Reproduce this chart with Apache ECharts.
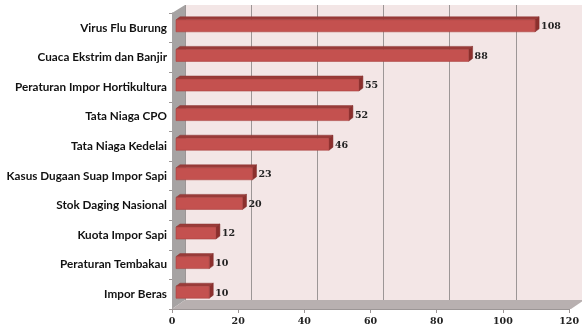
<!DOCTYPE html>
<html>
<head>
  <meta charset="UTF-8" />
  <title>Isu</title>
  <script src="https://cdn.jsdelivr.net/npm/echarts@6.0.0/dist/echarts.min.js"></script>
  <style>
    * { margin: 0; padding: 0; }
    body { background: #fff; }
    #chart { width: 582px; height: 329px; }
  </style>
</head>
<body>
  <div id="chart"></div>
  <script>
    const categories = ['Virus Flu Burung', 'Cuaca Ekstrim dan Banjir', 'Peraturan Impor Hortikultura',
      'Tata Niaga CPO', 'Tata Niaga Kedelai', 'Kasus Dugaan Suap Impor Sapi', 'Stok Daging Nasional',
      'Kuota Impor Sapi', 'Peraturan Tembakau', 'Impor Beras'];
    const values = [108, 88, 55, 52, 46, 23, 20, 12, 10, 10];
    const axisMin = 0, axisMax = 120, axisStep = 20;

    // 3d frame: front plane and back wall offset
    const front = { left: 172, top: 13, width: 399, height: 296 };
    const dx = 13, dy = 8;
    const back = { left: front.left + dx, top: front.top - dy, width: front.width, height: front.height - 1 };
    const gridColor = '#9c9696';

    const chart = echarts.init(document.getElementById('chart'));

    function bar3d(params, api) {
      const v = api.value(0), idx = api.value(1);
      const p0 = api.coord([0, idx]);
      const p1 = api.coord([v, idx]);
      const h = 12, d = 4, e = 3;
      const x0 = p0[0], x1 = p1[0], y0 = p0[1] - h / 2;
      return {
        type: 'group',
        children: [
          { type: 'polygon', shape: { points: [[x0, y0], [x1, y0], [x1 + d, y0 - e], [x0 + d, y0 - e]] },
            style: { fill: '#9a3b39', stroke: '#8a3432', lineWidth: 0.5 } },
          { type: 'polygon', shape: { points: [[x1, y0], [x1 + d, y0 - e], [x1 + d, y0 + h - e], [x1, y0 + h]] },
            style: { fill: '#8c2f2d', stroke: '#7e2a28', lineWidth: 0.5 } },
          { type: 'rect', shape: { x: x0, y: y0, width: x1 - x0, height: h },
            style: { fill: '#c4514f', stroke: '#a84341', lineWidth: 0.6 } },
          { type: 'text', style: { text: String(v), x: x1 + d + 2, y: p0[1] + 1, verticalAlign: 'middle',
            fill: '#222', font: 'bold 9.5px "DejaVu Serif"' } }
        ]
      };
    }

    chart.setOption({
      animation: false,
      grid: [
        { left: back.left, top: back.top, width: back.width, height: back.height,
          show: true, backgroundColor: '#f3e6e6', borderWidth: 0 },
        { left: front.left, top: front.top, width: front.width, height: front.height },
        { left: front.left + 4, top: front.top - 2, width: front.width, height: front.height }
      ],
      xAxis: [
        { gridIndex: 0, type: 'value', min: axisMin, max: axisMax, interval: axisStep,
          axisLabel: { show: false }, axisLine: { show: false }, axisTick: { show: false },
          splitLine: { show: true, lineStyle: { color: gridColor, width: 1 } } },
        { gridIndex: 1, type: 'value', min: axisMin, max: axisMax, interval: axisStep,
          axisLine: { show: true, lineStyle: { color: gridColor } },
          axisTick: { show: true, length: 4, lineStyle: { color: gridColor } },
          splitLine: { show: false },
          axisLabel: { margin: 8, color: '#222', fontFamily: 'DejaVu Serif', fontWeight: 'bold', fontSize: 9.5 } },
        { gridIndex: 2, type: 'value', min: axisMin, max: axisMax, show: false }
      ],
      yAxis: [
        { gridIndex: 0, type: 'category', data: categories, inverse: true, show: false },
        { gridIndex: 1, type: 'category', data: categories, inverse: true,
          axisLine: { show: true, lineStyle: { color: gridColor } },
          axisTick: { show: true, length: 3, lineStyle: { color: gridColor } },
          axisLabel: { margin: 5, color: '#111', fontFamily: 'Lato', fontWeight: 'bold', fontSize: 11.7 } },
        { gridIndex: 2, type: 'category', data: categories, inverse: true, show: false }
      ],
      graphic: [
        { type: 'polygon', silent: true, z: 1,
          shape: { points: [[front.left, front.top], [back.left, back.top], [back.left, back.top + back.height],
            [front.left, front.top + front.height]] },
          style: { fill: '#a6a3a3' } },
        { type: 'polygon', silent: true, z: 1,
          shape: { points: [[front.left, front.top + front.height], [back.left, back.top + back.height],
            [back.left + back.width, back.top + back.height], [front.left + front.width, front.top + front.height]] },
          style: { fill: '#b8b0b0' } }
      ],
      series: [{
        type: 'custom',
        xAxisIndex: 2, yAxisIndex: 2,
        renderItem: bar3d,
        encode: { x: 0, y: 1 },
        data: values.map((v, i) => [v, i]),
        z: 5
      }]
    });
  </script>
</body>
</html>
